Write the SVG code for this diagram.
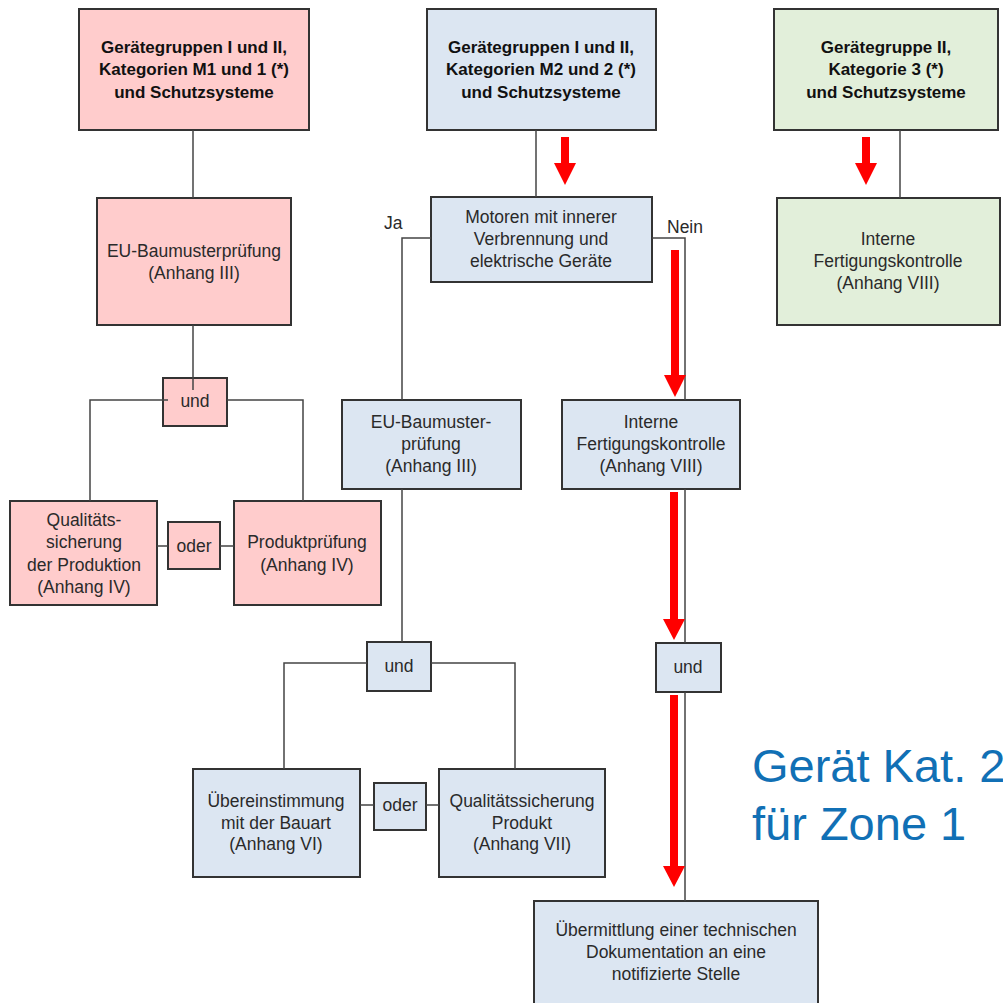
<svg xmlns="http://www.w3.org/2000/svg" width="1003" height="1003" viewBox="0 0 1003 1003">
<style>
  .box { stroke: #333; stroke-width: 2; }
  .pink { fill: #ffcccc; }
  .blue { fill: #dce6f2; }
  .green { fill: #e2efda; }
  text { font-family: "Liberation Sans", Arial, sans-serif; font-size: 17.5px; fill: #2a2a2a; text-anchor: middle; }
  .b { font-weight: bold; font-size: 17px; fill: #111; }
  .lbl { text-anchor: start; }
  .big { font-size: 47px; fill: #1170b5; text-anchor: start; }
  .con { fill: none; stroke: #444; stroke-width: 1.5; }
  .red { fill: #ff0000; }
</style>
<rect width="1003" height="1003" fill="#ffffff"/>

<g id="n-top-pink">
  <rect class="box pink" x="79" y="9" width="230" height="121"/>
  <text class="b" x="194" y="53">Gerätegruppen I und II,</text>
  <text class="b" x="194" y="75">Kategorien M1 und 1 (*)</text>
  <text class="b" x="194" y="98">und Schutzsysteme</text>
</g>
<g id="n-top-blue">
  <rect class="box blue" x="427" y="9" width="229" height="121"/>
  <text class="b" x="541" y="53">Gerätegruppen I und II,</text>
  <text class="b" x="541" y="75">Kategorien M2 und 2 (*)</text>
  <text class="b" x="541" y="98">und Schutzsysteme</text>
</g>
<g id="n-top-green">
  <rect class="box green" x="774" y="9" width="224" height="121"/>
  <text class="b" x="886" y="53">Gerätegruppe II,</text>
  <text class="b" x="886" y="75">Kategorie 3 (*)</text>
  <text class="b" x="886" y="98">und Schutzsysteme</text>
</g>
<g id="n-eu-pink">
  <rect class="box pink" x="97" y="198" width="194" height="127"/>
  <text x="194" y="257">EU-Baumusterprüfung</text>
  <text x="194" y="279">(Anhang III)</text>
</g>
<g id="n-motoren">
  <rect class="box blue" x="431" y="197" width="221" height="85"/>
  <text x="541" y="223">Motoren mit innerer</text>
  <text x="541" y="245">Verbrennung und</text>
  <text x="541" y="267">elektrische Geräte</text>
</g>
<g id="n-interne-green">
  <rect class="box green" x="777" y="198" width="223" height="127"/>
  <text x="888" y="245">Interne</text>
  <text x="888" y="267">Fertigungskontrolle</text>
  <text x="888" y="289">(Anhang VIII)</text>
</g>
<g id="n-und-pink">
  <rect class="box pink" x="163" y="378" width="64" height="48"/>
  <text x="195" y="407">und</text>
</g>
<g id="n-qs-prod">
  <rect class="box pink" x="10" y="501" width="147" height="104"/>
  <text x="84" y="526">Qualitäts-</text>
  <text x="84" y="548">sicherung</text>
  <text x="84" y="571">der Produktion</text>
  <text x="84" y="593">(Anhang IV)</text>
</g>
<g id="n-oder-pink">
  <rect class="box pink" x="168" y="522" width="52" height="47"/>
  <text x="194" y="552">oder</text>
</g>
<g id="n-produktpruefung">
  <rect class="box pink" x="234" y="501" width="147" height="104"/>
  <text x="307" y="548">Produktprüfung</text>
  <text x="307" y="571">(Anhang IV)</text>
</g>
<g id="n-eu-blue">
  <rect class="box blue" x="342" y="400" width="179" height="89"/>
  <text x="431" y="428">EU-Baumuster-</text>
  <text x="431" y="450">prüfung</text>
  <text x="431" y="472">(Anhang III)</text>
</g>
<g id="n-interne-blue">
  <rect class="box blue" x="562" y="400" width="178" height="89"/>
  <text x="651" y="428">Interne</text>
  <text x="651" y="450">Fertigungskontrolle</text>
  <text x="651" y="472">(Anhang VIII)</text>
</g>
<g id="n-und-mid">
  <rect class="box blue" x="367" y="642" width="64" height="49"/>
  <text x="399" y="672">und</text>
</g>
<g id="n-und-right">
  <rect class="box blue" x="656" y="643" width="65" height="49"/>
  <text x="688" y="673">und</text>
</g>
<g id="n-bauart">
  <rect class="box blue" x="193" y="769" width="167" height="108"/>
  <text x="276" y="807">Übereinstimmung</text>
  <text x="276" y="829">mit der Bauart</text>
  <text x="276" y="850">(Anhang VI)</text>
</g>
<g id="n-oder-blue">
  <rect class="box blue" x="374" y="783" width="52" height="47"/>
  <text x="400" y="811">oder</text>
</g>
<g id="n-qs-produkt">
  <rect class="box blue" x="439" y="769" width="166" height="108"/>
  <text x="522" y="807">Qualitätssicherung</text>
  <text x="522" y="829">Produkt</text>
  <text x="522" y="850">(Anhang VII)</text>
</g>
<g id="n-uebermittlung">
  <rect class="box blue" x="534" y="901" width="284" height="110"/>
  <text x="676" y="936">Übermittlung einer technischen</text>
  <text x="676" y="958">Dokumentation an eine</text>
  <text x="676" y="980">notifizierte Stelle</text>
</g>

<g id="connectors">
  <path class="con" d="M193,130 V198"/>
  <path class="con" d="M193,325 V390"/>
  <path class="con" d="M168,400 H90 V501"/>
  <path class="con" d="M227,400 H303 V501"/>
  <path class="con" d="M157,546 H168 M220,546 H234"/>
  <path class="con" d="M536,130 V197"/>
  <path class="con" d="M431,238 H402 V400"/>
  <path class="con" d="M652,238 H685 V400 M685,489 V643 M685,692 V901"/>
  <path class="con" d="M402,489 V642"/>
  <path class="con" d="M367,663 H284 V769"/>
  <path class="con" d="M431,663 H515 V769"/>
  <path class="con" d="M360,805 H374 M426,805 H439"/>
  <path class="con" d="M900,130 V198"/>
  <text class="lbl" x="384" y="229">Ja</text>
  <text class="lbl" x="667" y="233">Nein</text>
</g>

<g id="red-arrows">
  <polygon class="red" points="561,137 569,137 569,163 576,163 565,185 554,163 561,163"/>
  <polygon class="red" points="862,137 870,137 870,163 877,163 866,185 855,163 862,163"/>
  <polygon class="red" points="671,250 679,250 679,375 686,375 675,397 664,375 671,375"/>
  <polygon class="red" points="670,492 678,492 678,619 685,619 674,640 663,619 670,619"/>
  <polygon class="red" points="670,695 678,695 678,866 685,866 674,887 663,866 670,866"/>
</g>

<g id="caption">
  <text class="big" x="752" y="782">Gerät Kat. 2</text>
  <text class="big" x="752" y="840">für Zone 1</text>
</g>
</svg>
